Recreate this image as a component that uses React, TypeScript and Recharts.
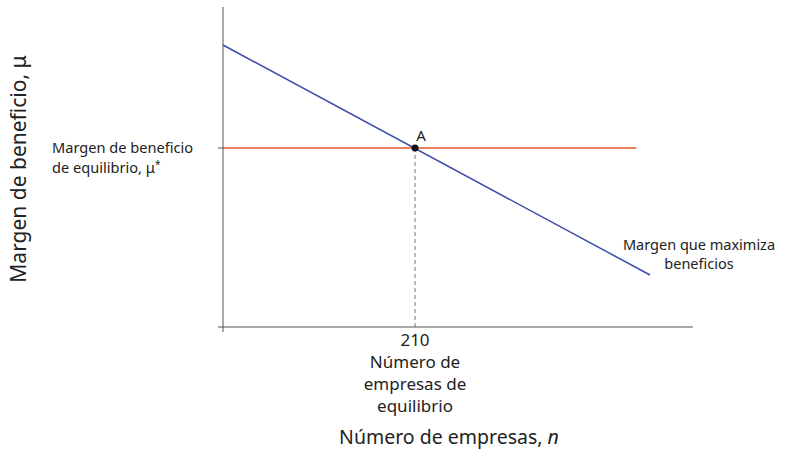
import React from "react";
import {
  ComposedChart,
  Line,
  XAxis,
  YAxis,
  ReferenceLine,
  ReferenceDot,
  Label,
} from "recharts";

const FONT = "'Noto Sans', 'Open Sans', sans-serif";

// x: number of firms, y: profit margin (arbitrary units)
const markupCurve = [
  { x: 0, y: 282 },
  { x: 467, y: 52 },
];
const equilibriumMargin = [
  { x: 0, y: 179 },
  { x: 452, y: 179 },
];
const equilibriumFirms = 210;
const equilibriumMu = 179;
const xTicks = [0, 210];
const yTicks = [0, 179];
const xTickLines = ["210", "Número de", "empresas de", "equilibrio"];
const yTickLines = ["Margen de beneficio", "de equilibrio, μ"];
const curveLabel = ["Margen que maximiza", "beneficios"];

const XTick = (props: any) => {
  const { x, y, payload } = props;
  if (payload.value === 0) {
    return <line x1={x} x2={x} y1={y - 8} y2={y - 3} stroke="#555" strokeWidth={1} />;
  }
  return (
    <text x={x} y={y} textAnchor="middle" fontFamily={FONT} fontSize={17} fill="#222">
      {xTickLines.map((t, i) => (
        <tspan key={i} x={x} dy={i === 0 ? 11 : 22}>
          {t}
        </tspan>
      ))}
    </text>
  );
};

const YTick = (props: any) => {
  const { x, y, payload } = props;
  if (payload.value === 0) return null;
  const lx = x - 164;
  return (
    <text x={lx} y={y} fontFamily={FONT} fontSize={14.6} fill="#222">
      <tspan x={lx} dy={5}>{yTickLines[0]}</tspan>
      <tspan x={lx} dy={20}>{yTickLines[1]}</tspan>
      <tspan fontSize={10} dy={-5}>*</tspan>
    </text>
  );
};

export default function App() {
  return (
    <div style={{ position: "absolute", left: 0, top: 0, width: 810, height: 449, background: "#fff" }}>
      <ComposedChart
        width={810}
        height={449}
        margin={{ top: 7, right: 117, bottom: 0, left: 0 }}
      >
        <XAxis
          type="number"
          dataKey="x"
          domain={[0, 514]}
          ticks={xTicks}
          tick={<XTick />}
          tickLine={false}
          axisLine={{ stroke: "#555", strokeWidth: 1 }}
          height={122}
          interval={0}
        >
          <Label
            content={(p: any) => {
              const vb = p.viewBox;
              const cx = vb.x + vb.width / 2 - 9;
              return (
                <text x={cx} y={vb.y + 117} textAnchor="middle" fontFamily={FONT} fontSize={19.5} fill="#222">
                  Número de empresas, <tspan fontStyle="italic">n</tspan>
                </text>
              );
            }}
          />
        </XAxis>
        <YAxis
          type="number"
          domain={[0, 320]}
          ticks={yTicks}
          tick={<YTick />}
          tickSize={5}
          tickLine={{ stroke: "#555" }}
          axisLine={{ stroke: "#555", strokeWidth: 1 }}
          width={223}
          interval={0}
        >
          <Label
            content={(p: any) => {
              const vb = p.viewBox;
              const cx = 18;
              const cy = vb.y + vb.height / 2 + 2;
              return (
                <text
                  x={cx}
                  y={cy}
                  textAnchor="middle"
                  dominantBaseline="central"
                  transform={`rotate(-90, ${cx}, ${cy})`}
                  fontFamily={FONT}
                  fontSize={21}
                  fill="#222"
                >
                  Margen de beneficio, μ
                </text>
              );
            }}
          />
        </YAxis>
        <ReferenceLine
          segment={[
            { x: equilibriumFirms, y: 0 },
            { x: equilibriumFirms, y: equilibriumMu },
          ]}
          stroke="#777"
          strokeDasharray="4 3"
          strokeWidth={1}
        />
        <Line
          data={equilibriumMargin}
          dataKey="y"
          stroke="#e8542b"
          strokeWidth={1.5}
          dot={false}
          activeDot={false}
          isAnimationActive={false}
        />
        <Line
          data={markupCurve}
          dataKey="y"
          stroke="#3b4ba8"
          strokeWidth={1.5}
          dot={false}
          activeDot={false}
          isAnimationActive={false}
          label={(p: any) => {
            if (p.index !== 1) return null;
            return (
              <text key="cl" x={p.x + 49} y={p.y - 25} textAnchor="middle" fontFamily={FONT} fontSize={14.5} fill="#222">
                {curveLabel.map((t, i) => (
                  <tspan key={i} x={p.x + 49} dy={i === 0 ? 0 : 19}>
                    {t}
                  </tspan>
                ))}
              </text>
            );
          }}
        />
        <ReferenceDot
          x={equilibriumFirms}
          y={equilibriumMu}
          r={3.5}
          fill="#111"
          stroke="none"
          label={(p: any) => (
            <text x={p.viewBox.x + p.viewBox.width / 2 + 6} y={p.viewBox.y - 4} textAnchor="middle" fontFamily={FONT} fontSize={15} fill="#222">
              A
            </text>
          )}
        />
      </ComposedChart>
    </div>
  );
}
